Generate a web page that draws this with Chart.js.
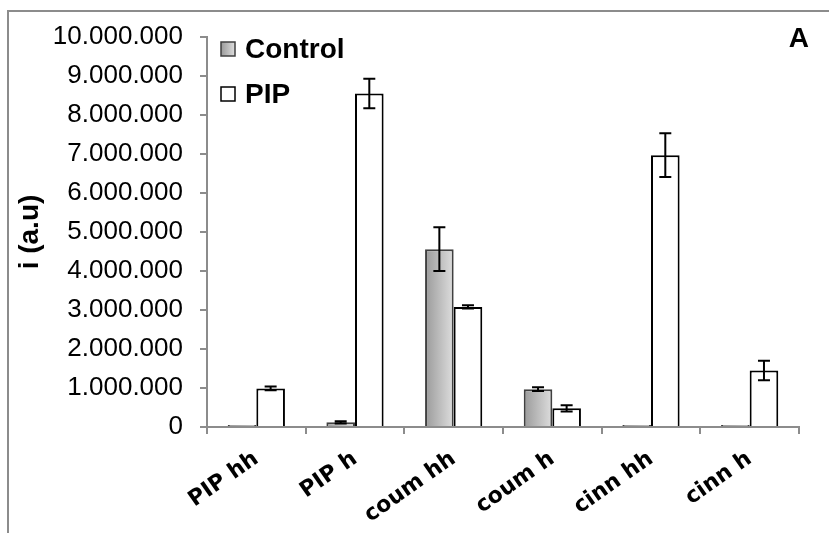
<!DOCTYPE html>
<html>
<head>
<meta charset="utf-8">
<script src="https://cdn.jsdelivr.net/npm/chart.js@4"></script>
<style>
  html, body { margin: 0; padding: 0; background: #fff; }
  #wrap { width: 829px; height: 533px; position: relative; }
</style>
</head>
<body>
<div id="wrap"><canvas id="c" width="829" height="533"></canvas></div>
<script>
// Intensities (a.u.) per compound, mean and error for each treatment
const categories = ['PIP hh', 'PIP h', 'coum hh', 'coum h', 'cinn hh', 'cinn h'];
const controlValues = [50000, 120000, 4560000, 970000, 50000, 50000];
const controlErrors = [0, 30000, 560000, 50000, 0, 0];
const pipValues = [990000, 8550000, 3080000, 480000, 6970000, 1450000];
const pipErrors = [50000, 380000, 40000, 80000, 560000, 250000];
const seriesNames = ['Control', 'PIP'];
const yMin = 0, yMax = 10000000, yStep = 1000000;
const yTitle = 'i (a.u)';
const panelLetter = 'A';

const CAT_PCT = 0.58;
const AXIS_GRAY = '#8c8c8c';

// 10000000 -> "10.000.000"
function dotted(n) {
  return String(Math.round(n)).replace(/\B(?=(\d{3})+(?!\d))/g, '.');
}

function greyGradient(ctx, x0, x1) {
  const g = ctx.createLinearGradient(x0, 0, x1, 0);
  g.addColorStop(0, '#9a9a9a');
  g.addColorStop(1, '#dedede');
  return g;
}

// Gradient fill for the control bars, laid out from the category scale
function controlFill(context) {
  const chart = context.chart;
  const xs = chart.scales && chart.scales.x;
  if (!xs || context.type !== 'data' || !xs.width) return '#bdbdbd';
  const center = xs.getPixelForValue(context.dataIndex);
  const half = (xs.width / categories.length) * CAT_PCT / 2;
  return greyGradient(chart.ctx, center - half, center);
}

const errorSets = [controlErrors, pipErrors];

// Vertical error bars with caps, placed through the value scale
const errorBars = {
  id: 'errorBars',
  afterDatasetsDraw(chart) {
    const ctx = chart.ctx;
    const ys = chart.scales.y;
    chart.data.datasets.forEach((ds, di) => {
      const meta = chart.getDatasetMeta(di);
      meta.data.forEach((bar, i) => {
        const e = errorSets[di][i];
        if (!e) return;
        const v = ds.data[i];
        const yt = ys.getPixelForValue(v + e);
        const yb = ys.getPixelForValue(v - e);
        const x = bar.x;
        ctx.save();
        ctx.strokeStyle = '#000';
        ctx.lineWidth = 2;
        ctx.beginPath();
        ctx.moveTo(x, yt); ctx.lineTo(x, yb);
        ctx.moveTo(x - 6, yt); ctx.lineTo(x + 6, yt);
        ctx.moveTo(x - 6, yb); ctx.lineTo(x + 6, yb);
        ctx.stroke();
        ctx.restore();
      });
    });
  }
};

// Outer frame, in-plot legend and panel letter
const decorations = {
  id: 'decorations',
  beforeDraw(chart) {
    const ctx = chart.ctx;
    ctx.save();
    ctx.strokeStyle = AXIS_GRAY;
    ctx.lineWidth = 2;
    ctx.beginPath();
    ctx.moveTo(8, chart.height);
    ctx.lineTo(8, 11);
    ctx.lineTo(chart.width, 11);
    ctx.stroke();
    ctx.restore();
  },
  afterDraw(chart) {
    const ctx = chart.ctx;
    const area = chart.chartArea;
    ctx.save();
    const bx = area.left + 14, by0 = area.top + 5, step = 45, box = 14;
    ctx.font = 'bold 28px "Liberation Sans", Arial, sans-serif';
    ctx.textBaseline = 'middle';
    ctx.textAlign = 'left';
    chart.data.datasets.forEach((ds, i) => {
      const y = by0 + i * step;
      ctx.fillStyle = i === 0 ? greyGradient(ctx, bx, bx + box) : '#fff';
      ctx.fillRect(bx, y, box, box);
      ctx.strokeStyle = i === 0 ? '#404040' : '#000';
      ctx.lineWidth = 1.5;
      ctx.strokeRect(bx, y, box, box);
      ctx.fillStyle = '#000';
      ctx.fillText(ds.label, bx + 24, y + box / 2 + 1);
    });
    ctx.textAlign = 'right';
    ctx.textBaseline = 'top';
    ctx.fillText(panelLetter, area.right + 10, area.top - 12);
    ctx.restore();
  }
};

new Chart(document.getElementById('c'), {
  type: 'bar',
  data: {
    labels: categories,
    datasets: [
      { label: seriesNames[0], data: controlValues, backgroundColor: controlFill, borderColor: '#404040', borderWidth: 2, categoryPercentage: CAT_PCT, barPercentage: 1.0 },
      { label: seriesNames[1], data: pipValues, backgroundColor: '#ffffff', borderColor: '#000000', borderWidth: 2, categoryPercentage: CAT_PCT, barPercentage: 1.0 }
    ]
  },
  options: {
    responsive: false,
    animation: false,
    events: [],
    layout: { padding: { left: 0, top: 37, right: 30, bottom: 0 } },
    plugins: { legend: { display: false }, tooltip: { enabled: false } },
    scales: {
      x: {
        grid: { drawOnChartArea: false, drawTicks: true, tickLength: 7, color: AXIS_GRAY, lineWidth: 2 },
        border: { color: AXIS_GRAY, width: 2 },
        ticks: {
          color: '#000',
          font: { family: '"DejaVu Sans", Verdana, sans-serif', size: 22, weight: 'bold' },
          minRotation: 35, maxRotation: 35, padding: 12, autoSkip: false
        },
        afterFit(scale) { scale.height = 106; }
      },
      y: {
        min: yMin, max: yMax,
        grid: { drawOnChartArea: false, drawTicks: true, tickLength: 7, color: AXIS_GRAY, lineWidth: 2 },
        border: { color: AXIS_GRAY, width: 2 },
        ticks: {
          stepSize: yStep, color: '#000', padding: 17,
          font: { family: '"Liberation Sans", Arial, sans-serif', size: 26 },
          callback: (v) => dotted(v)
        },
        title: {
          display: true, text: yTitle, color: '#000',
          font: { family: '"Liberation Sans", Arial, sans-serif', size: 28, weight: 'bold' },
          padding: { top: 13, bottom: 0 }
        },
        afterFit(scale) { scale.width = 207; }
      }
    }
  },
  plugins: [errorBars, decorations]
});
</script>
</body>
</html>
